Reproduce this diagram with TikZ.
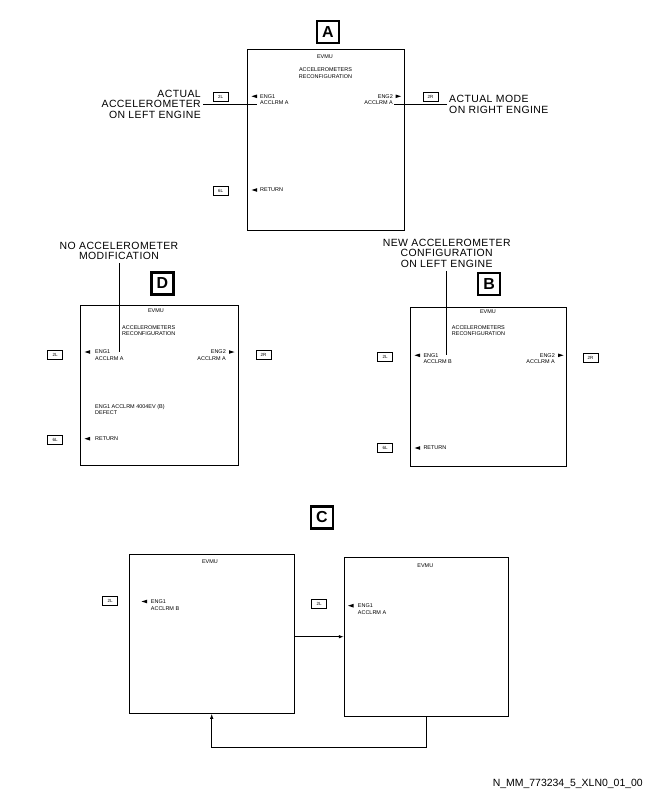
\documentclass[tikz,border=0pt]{standalone}
\usepackage{fontspec}
\setmainfont{Liberation Sans}
\newfontfamily\calloutfamily{Liberation Sans}[LetterSpace=4]
\usetikzlibrary{math}
\usetikzlibrary{arrows.meta}

\newcommand{\scrfont}{\fontsize{5.5}{6.8}\selectfont}
\newcommand{\callfont}{\calloutfamily\fontsize{10.5}{10.6}\selectfont}

\begin{document}
\begin{tikzpicture}[x=1bp, y=-1bp,
	screen/.style={draw, line width=0.9bp, inner sep=0},
	tagbox/.style={draw, line width=2.6bp, minimum width=22bp, minimum height=22bp, inner sep=0, font=\fontsize{16}{16}\selectfont\bfseries},
	keybox/.style={draw, line width=0.7bp, minimum width=15bp, minimum height=9bp, inner sep=0, font=\fontsize{4.5}{4.5}\selectfont},
	scrtext/.style={inner sep=0, font=\scrfont},
	callout/.style={inner xsep=2bp, inner ysep=3bp, font=\callfont},
	leader/.style={line width=0.7bp},
	flow/.style={line width=0.9bp, -{Latex[length=5bp, width=3.5bp]}},
]
	% Constants
	\tikzmath{
		\arrowlen = 5.5; \arrowhalf = 1.8;
	}
	\useasboundingbox (0,0) rectangle (648,792);

	% Screens
	\node[screen, minimum width=157bp, minimum height=181bp] (scrA) at (325.5,139.5) {};
	\node[screen, minimum width=158bp, minimum height=160bp] (scrD) at (159,385) {};
	\node[screen, minimum width=156bp, minimum height=159.7bp] (scrB) at (488.7,386.8) {};
	\node[screen, minimum width=165.3bp, minimum height=159bp] (scrC1) at (211.7,633.8) {};
	\node[screen, minimum width=163.7bp, minimum height=158.7bp] (scrC2) at (426.2,636.7) {};

	% View letters
	\node[tagbox] (tagA) at (328,32) {A};
	\node[tagbox] (tagD) at (162.5,283.5) {D};
	\node[tagbox] (tagB) at (489,284) {B};
	\node[tagbox] (tagC) at (322,517.5) {C};

	% Line select keys
	\foreach \kname/\kx/\ky/\ktext in {A2L/220.5/97/2L, A2R/430.5/97/2R, A6L/220.5/190.5/6L,
		D2L/55/355/2L, D2R/263.5/355/2R, D6L/55/439.8/6L,
		B2L/385/356.7/2L, B2R/590.5/357.5/2R, B6L/385/448/6L,
		C12L/110/600.5/2L, C22L/319/603.8/2L} {
			\node[keybox] (key\kname) at (\kx,\ky) {\ktext};
		}

	% Prompt arrows next to the lines
	\foreach \ax/\ay/\dir [
		evaluate=\dir as \tipx using \ax + \dir*\arrowlen,
	] in {257/96.3/-1, 395.5/96.3/1, 257/190/-1,
		90/352/-1, 229/352/1, 90/438.7/-1,
		420/355.3/-1, 558/355.3/1, 420/448/-1,
		147/601.5/-1, 353.5/605.7/-1} {
			\fill (\ax,\ay-\arrowhalf) -- (\tipx,\ay) -- (\ax,\ay+\arrowhalf) -- cycle;
		}

	% View A
	\node[scrtext] (evmuA) at (325,57) {EVMU};
	\node[scrtext, align=center] (titleA) at (325.5,73.5) {ACCELEROMETERS\\RECONFIGURATION};
	\node[scrtext, anchor=west, align=left] (engA1) at (260,99.7) {ENG1\\ACCLRM A};
	\node[scrtext, anchor=east, align=right] (engA2) at (393,99.7) {ENG2\\ACCLRM A};
	\node[scrtext, anchor=west] (retA) at (260,190) {RETURN};
	\node[callout, anchor=east, align=right] (calA1) at (203,104) {ACTUAL\\ACCELEROMETER\\ON LEFT ENGINE};
	\node[callout, anchor=west, align=left] (calA2) at (447,104.5) {ACTUAL MODE\\ON RIGHT ENGINE};
	\coordinate (ptA1) at (257,104);
	\coordinate (ptA2) at (394,104);
	\draw[leader] (calA1.east |- ptA1) -- (ptA1);
	\draw[leader] (ptA2) -- (calA2.west |- ptA2);

	% View D
	\node[scrtext] (evmuD) at (156,310.7) {EVMU};
	\node[scrtext, anchor=west, align=left, font=\fontsize{5.5}{6}\selectfont] (titleD) at (122,331) {ACCELEROMETERS\\RECONFIGURATION};
	\node[scrtext, anchor=west, align=left] (engD1) at (95,355.4) {ENG1\\ACCLRM A};
	\node[scrtext, anchor=east, align=right] (engD2) at (226,355.4) {ENG2\\ACCLRM A};
	\node[scrtext, anchor=west, align=left, font=\fontsize{5.5}{6}\selectfont] (defD) at (95,409.9) {ENG1 ACCLRM 4004EV (B)\\DEFECT};
	\node[scrtext, anchor=west] (retD) at (95,438.7) {RETURN};
	\node[callout, align=center] (calD) at (119,251) {NO ACCELEROMETER\\MODIFICATION};
	\coordinate (ptD) at (119,352);
	\draw[leader] (calD) -- (ptD);

	% View B
	\node[scrtext] (evmuB) at (488,312) {EVMU};
	\node[scrtext, anchor=west, align=left, font=\fontsize{5.5}{6}\selectfont] (titleB) at (451.7,331) {ACCELEROMETERS\\RECONFIGURATION};
	\node[scrtext, anchor=west, align=left] (engB1) at (423.3,358.7) {ENG1\\ACCLRM B};
	\node[scrtext, anchor=east, align=right] (engB2) at (555,358.7) {ENG2\\ACCLRM A};
	\node[scrtext, anchor=west] (retB) at (423.3,448) {RETURN};
	\node[callout, align=center] (calB) at (446.7,253.3) {NEW ACCELEROMETER\\CONFIGURATION\\ON LEFT ENGINE};
	\coordinate (ptB) at (446.7,355);
	\draw[leader] (calB) -- (ptB);

	% View C
	\node[scrtext] (evmuC1) at (210,561.5) {EVMU};
	\node[scrtext, anchor=west, align=left] (engC1) at (150.7,604.9) {ENG1\\ACCLRM B};
	\node[scrtext] (evmuC2) at (425.3,565.3) {EVMU};
	\node[scrtext, anchor=west, align=left] (engC2) at (357.7,609.1) {ENG1\\ACCLRM A};
	\draw[flow] (scrC1.east |- scrC2.west) -- (scrC2.west);
	\draw[flow] (scrC2.south) -- ++(0,31.3) -| (scrC1.south);

	% Figure reference
	\node[anchor=east, inner sep=0, font=\fontsize{10.5}{10.5}\selectfont] (docref) at (643,784) {N\_MM\_773234\_5\_XLN0\_01\_00};
\end{tikzpicture}
\end{document}
